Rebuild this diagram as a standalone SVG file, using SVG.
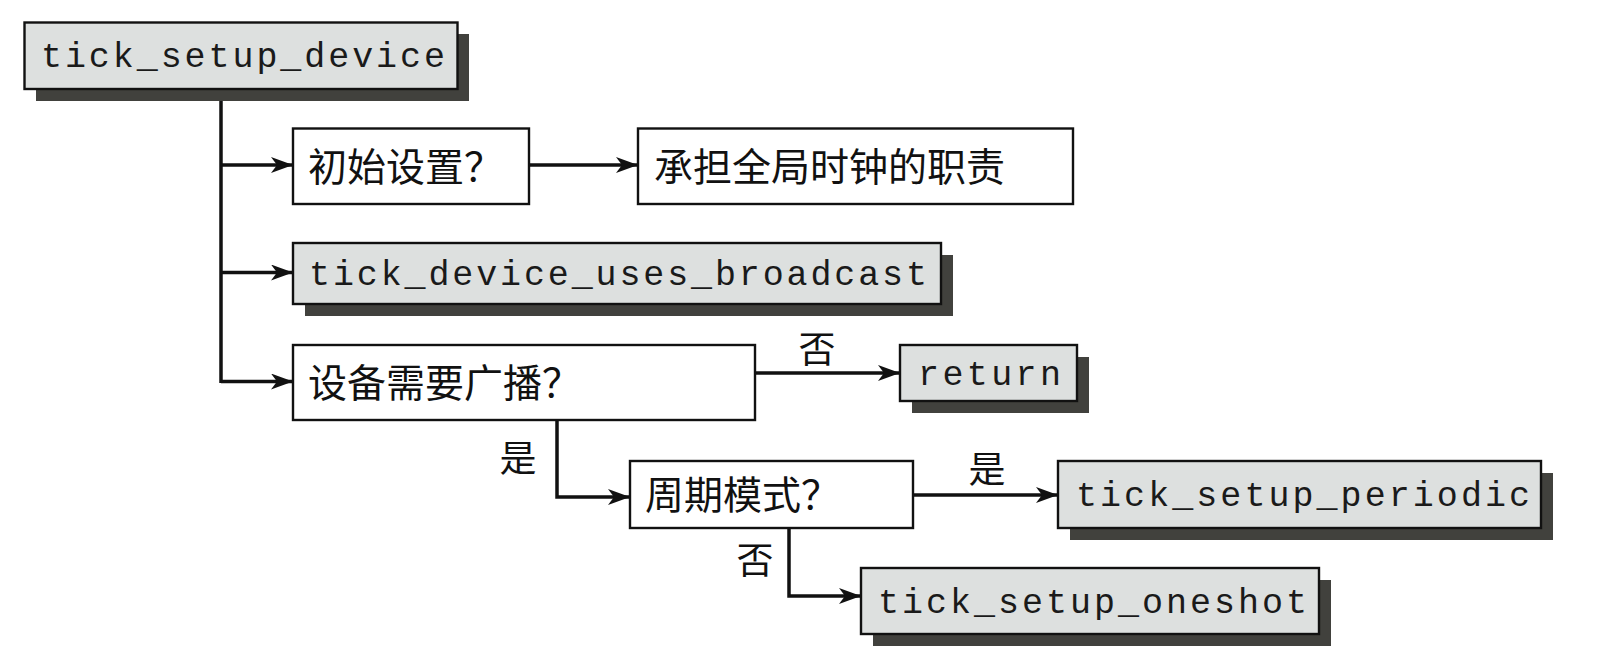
<svg xmlns="http://www.w3.org/2000/svg" width="1600" height="666" viewBox="0 0 1600 666">
<style>
.bg{fill:#ffffff}
.box{fill:#ffffff;stroke:#111;stroke-width:2.4}
.gbox{fill:#dde0df;stroke:#111;stroke-width:2.4}
.shadow{fill:#41413d}
.mono{font-family:"Liberation Mono","DejaVu Sans Mono",monospace;font-size:35px;fill:#1a1a1a}
.cjk{font-family:"Noto Sans CJK SC","Noto Sans CJK TC",sans-serif;font-size:39px;fill:#111}
.lbl{font-family:"Noto Sans CJK SC","Noto Sans CJK TC",sans-serif;font-size:37px;fill:#111;text-anchor:middle}
.conn{fill:none;stroke:#111;stroke-width:3.5}
</style>
<defs>
<marker id="arr" markerUnits="userSpaceOnUse" markerWidth="24" markerHeight="18" refX="22" refY="8" orient="auto">
<path d="M0,0 L22,8 L0,16 L6,8 z" fill="#111"/>
</marker>
</defs>
<rect class="bg" x="0" y="0" width="1600" height="666"/>
<g id="connectors">
<path class="conn" d="M221,89 V383"/>
<path class="conn" d="M221,165 H293" marker-end="url(#arr)"/>
<path class="conn" d="M221,272.5 H293" marker-end="url(#arr)"/>
<path class="conn" d="M221,381.5 H293" marker-end="url(#arr)"/>
<path class="conn" d="M529,165 H638" marker-end="url(#arr)"/>
<path class="conn" d="M755,373 H900" marker-end="url(#arr)"/>
<path class="conn" d="M557,420 V497 H630" marker-end="url(#arr)"/>
<path class="conn" d="M913,495 H1058" marker-end="url(#arr)"/>
<path class="conn" d="M789,528 V596 H861" marker-end="url(#arr)"/>
<text class="lbl" x="817" y="363">否</text>
<text class="lbl" x="518" y="472">是</text>
<text class="lbl" x="987" y="483">是</text>
<text class="lbl" x="755" y="574">否</text>
</g>
<g id="n_tick_setup_device">
<rect class="shadow" x="36" y="34" width="433" height="67"/>
<rect class="gbox" x="24.5" y="22.5" width="433" height="66.5"/>
<text class="mono" x="41" y="67" textLength="404" lengthAdjust="spacing">tick_setup_device</text>
</g>
<g id="n_initial">
<rect class="box" x="293" y="128.5" width="236" height="75.5"/>
<text class="cjk" x="308" y="181">初始设置？</text>
</g>
<g id="n_global">
<rect class="box" x="638" y="128.5" width="435" height="75.5"/>
<text class="cjk" x="654" y="181">承担全局时钟的职责</text>
</g>
<g id="n_uses_broadcast">
<rect class="shadow" x="305" y="255" width="648" height="61"/>
<rect class="gbox" x="293" y="243" width="648" height="61"/>
<text class="mono" x="309" y="285" textLength="618" lengthAdjust="spacing">tick_device_uses_broadcast</text>
</g>
<g id="n_need_broadcast">
<rect class="box" x="293" y="345" width="462" height="75"/>
<text class="cjk" x="308" y="397">设备需要广播？</text>
</g>
<g id="n_return">
<rect class="shadow" x="912" y="357" width="177" height="56"/>
<rect class="gbox" x="900" y="345" width="177" height="56"/>
<text class="mono" x="918" y="384.5" textLength="143" lengthAdjust="spacing">return</text>
</g>
<g id="n_periodic_q">
<rect class="box" x="630" y="461" width="283" height="67"/>
<text class="cjk" x="645" y="509">周期模式？</text>
</g>
<g id="n_periodic">
<rect class="shadow" x="1070" y="473" width="483" height="67"/>
<rect class="gbox" x="1058" y="461" width="483" height="67"/>
<text class="mono" x="1076" y="506" textLength="454" lengthAdjust="spacing">tick_setup_periodic</text>
</g>
<g id="n_oneshot">
<rect class="shadow" x="873" y="580" width="458" height="66"/>
<rect class="gbox" x="861" y="568" width="458" height="66"/>
<text class="mono" x="878" y="612.5" textLength="429" lengthAdjust="spacing">tick_setup_oneshot</text>
</g>
</svg>
